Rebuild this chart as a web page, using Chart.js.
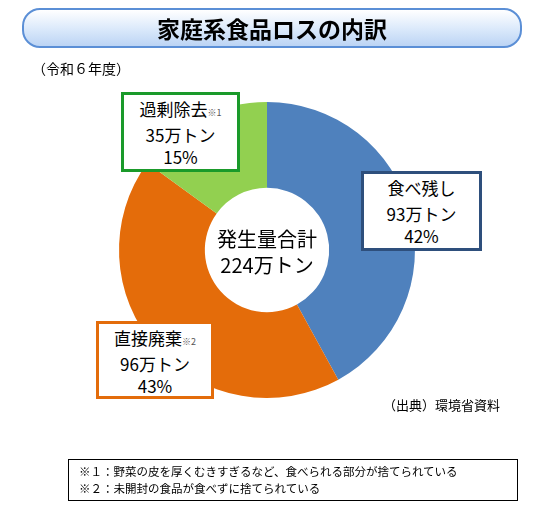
<!DOCTYPE html>
<html><head><meta charset="utf-8">
<script src="https://cdn.jsdelivr.net/npm/chart.js@4/dist/chart.umd.min.js"></script>
<style>
body{margin:0;width:538px;height:513px;position:relative;background:#fff;font-family:"Noto Sans CJK JP",sans-serif;overflow:hidden}
#c{position:absolute;left:0;top:0}
.a{position:absolute;color:#000}
.title{left:22px;top:8px;width:496px;height:36px;border:2px solid #5b8fd6;border-radius:18px;background:linear-gradient(#ffffff,#d6e6fa 60%,#bcd4f4);text-align:center;font-size:23px;font-weight:bold;line-height:36px}
.box{background:#fff;border:3px solid;text-align:center;font-size:17px;line-height:22px;padding-top:3px;box-sizing:border-box}
.box sub{font-size:9px;vertical-align:baseline;color:#555}
.foot{left:68px;top:459px;width:450px;height:42px;border:1.5px solid #000;font-size:11.5px;line-height:17px;padding:3px 0 0 10px;box-sizing:border-box}
</style></head><body>
<canvas id="c" width="538" height="513"></canvas>
<div class="a title">家庭系食品ロスの内訳</div>
<div class="a" style="left:32px;top:58px;font-size:14px">（令和６年度）</div>
<div class="a box" id="g" style="left:121px;top:92px;width:119px;height:80px;border-color:#1a9a2a"></div>
<div class="a box" id="b" style="left:361px;top:171px;width:121px;height:80px;border-color:#2e4f7c"></div>
<div class="a box" id="o" style="left:96px;top:321px;width:118px;height:78px;border-color:#e36c0a"></div>
<div class="a" style="left:195px;top:226px;width:144px;text-align:center;font-size:20px;line-height:26px">発生量合計<br>224万トン</div>
<div class="a" style="left:383px;top:395px;font-size:13px">（出典）環境省資料</div>
<div class="a foot">※１：野菜の皮を厚くむきすぎるなど、食べられる部分が捨てられている<br>※２：未開封の食品が食べずに捨てられている</div>
<script>
var categories = ['食べ残し', '直接廃棄', '過剰除去'];
var notes = ['', '※2', '※1'];
var amounts = [93, 96, 35];   // 万トン
var shares = [42, 43, 15];    // %
var colors = ['#4f81bd', '#e46c0a', '#92d050'];
['b', 'o', 'g'].forEach(function (id, i) {
  document.getElementById(id).innerHTML = categories[i] + '<sub>' + notes[i] + '</sub><br>' + amounts[i] + '万トン<br>' + shares[i] + '%';
});
new Chart(document.getElementById('c'), {
  type: 'doughnut',
  data: { labels: categories, datasets: [{ data: shares, backgroundColor: colors, borderWidth: 0 }] },
  options: {
    responsive: false, animation: false, cutout: '42%',
    layout: { padding: { left: 119, right: 123, top: 102, bottom: 115 } },
    plugins: { legend: { display: false }, tooltip: { enabled: false } }
  }
});
</script>
</body></html>
